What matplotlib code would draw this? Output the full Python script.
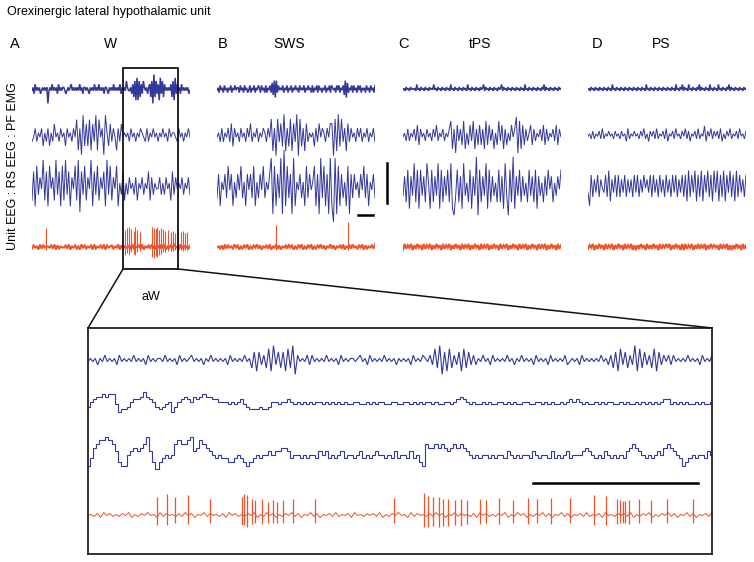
import numpy as np
import matplotlib
matplotlib.use("Agg")
import matplotlib.pyplot as plt
from matplotlib.patches import Rectangle

plt.rcParams['font.family'] = ['Liberation Sans', 'DejaVu Sans']

W, H = 754, 562
BLUE = '#34379a'
RED = '#f0522a'

# ---- data: hand-read traces, one digit per sample (4.5 = baseline) ----
# panel A (W)
a_emg = ("4536454534" "5454504546" "4545364545" "5434545645" "4545464535"
         "5454354546" "4546454535" "5435454645" "4546354547" "5445362718"
         "1726375453" "5627092736" "1837264545" "4627183645" "3645454534")
a_pf = ("3463546253" "6253745364" "52645364" "8160927281" "739184609"
        "527364" "163745" "4536453546" "5436354645" "3546453645" "54364535464")
a_rs = ("2718364927" "1846293718" "2937164829" "0738264917" "3826471938"
        "264815372" "5364536254" "6354726354" "4635364527" "36454635463")
a_unit = ("3645273645" "5463726354" "4637254635" "2746354627" "3546372645"
          "6354726354" "4627354637" "2546374526" "3746254637" "5427364536")
a_spk_t = [0.886, 5.905, 6.032, 6.139, 6.285, 6.456, 6.538, 6.665, 6.816,
           7.595, 7.722, 7.829, 7.930, 8.038, 8.146, 8.291, 8.437, 8.608,
           8.778, 8.924, 9.070, 9.241, 9.411, 9.557, 9.703, 9.829]
a_spk_up = [19, 17, 19, 20, 18, 16, 20, 17, 15,
            20, 19, 18, 20, 17, 19, 18, 16, 17, 15, 16, 14, 15, 15, 16, 14, 15]
a_spk_dn = [3, 8, 6, 8, 5, 7, 8, 5, 4,
            10, 11, 9, 10, 8, 7, 5, 5, 4, 4, 4, 3, 4, 3, 4, 3, 3]

# panel B (SWS)
b_emg = ("4536453645" "3546354645" "5364536453" "4635463546" "5364536354"
         "6372818364" "5463546354" "6354645364" "5463546453" "6354636453"
         "5463546365" "4536463546" "2817354636" "4536463545" "3645364536")
b_pf = ("4536354637" "2645364536" "4735463546" "5364" "8160837291"
        "6281739082" "617354" "5263746536" "47" "7081928361" "736"
        "4536463546" "35463")
b_rs = ("3625463746" "2536473526" "4637253647" "3546" "8172638192" "7361825"
        "4635273645" "726183726182" "0" "81726352716" "3645364736" "25463")
b_unit = ("4536273645" "3746253647" "2536473625" "4637254736" "2546374625"
          "3647253647" "2536473625" "4736254637" "2546374536" "4726354637")
b_spk_t = [3.734, 8.291]
b_spk_up = [22, 25]
b_spk_dn = [3, 3]

# panel C (tPS)
c_emg = ("4536453645" "4538453645" "3645364548" "4536453645" "3645384536"
         "4536453645" "3845364536" "4536458364" "5364536453" "6458364536"
         "4536453645" "3645384536" "4536453645" "3648364536" "4536453645")
c_pf = ("4536354637" "2645364536" "4735463546" "8160736281" "5273816272"
        "6182736152" "8371625374" "6908172635" "7263546372" "6354637264")
c_rs = ("3627163827" "1736285172" "6381726372" "8103726183" "5271639072"
        "6381726352" "7261830729" "1637263527" "3627163526" "3746253647")
c_unit = ("2736472637" "4627364726" "3746273647" "2637462736" "4726374627"
          "3647263746" "2736472637" "4627364726" "3746273647" "2637462736")

# panel D (PS)
d_emg = ("4536453645" "3645364536" "4538453645" "3645364536" "4536453645"
         "3645384536" "4536453645" "3645364536" "4538453648" "3645384536"
         "4536483645" "3645384536" "4538453645" "3648364536" "4536453645")
d_pf = ("4536354637" "3546453645" "3645273546" "4536473526" "4637354637"
        "2546374536" "4736254637" "3548264736" "4637253647" "3546374536")
d_rs = ("3072637264" "3728163727" "2637263627" "3726374637" "2736273627"
        "3627372637" "2718273817" "2817382718" "3817281738" "2718273627")
d_unit = ("3647263746" "2736472637" "4627364726" "2637462736" "3746273647"
          "4726374627" "2736472637" "3647263746" "4627364726" "2637462736")

# inset (aW)
i_emg = ("4545354645" "4536454546" "4545364545" "5464545364" "5456454535"
         "4645454536" "4545464527" "1736281937" "2718290645" "4636454546"
         "4545364545" "5456453645" "4546454535" "4545364546" "5463829071"
         "8263718273" "6354645364" "5454645354" "6454536454" "5364545463"
         "4545364545" "4546453627" "1837263918" "2736281736" "4636454546"
         "4545364546")
i_eeg1 = ("3567787884" "1223566797" "6532345135" "6765767877" "6655545456"
          "4322232235" "5455654545" "4545545454" "5454455445" "4545544554"
          "4554545455" "4544554567" "6545445454" "4554545445" "5445545454"
          "4545656545" "4454545544" "5454454545" "4545664545" "4544545445")
i_eeg2 = ("1367889875" "2114565679" "5202343478" "7789568765" "4343322343"
          "2123434454" "5566534434" "3443545343" "4534434534" "3454434353"
          "4435342176" "6767656767" "6543434434" "3443543434" "4354344353"
          "4345344456" "5434354343" "4356765434" "3454676543" "1234344354")
i_unit = ("4536274635" "3647253647" "4527364536" "3746254736" "4536274635"
          "3647253746" "2536473625" "4736254637" "3546274536" "4637253647"
          "4527364536" "3746254736" "4536274635" "3647253746" "2536473625"
          "4736254637" "3546274536" "4637253647" "2536473625" "4736254637")
i_spk_t = [0.553, 0.633, 0.697, 0.801, 0.978, 1.234, 1.254, 1.274, 1.314,
           1.338, 1.394, 1.442, 1.482, 1.514, 1.563, 1.643, 1.819, 2.452,
           2.692, 2.724, 2.764, 2.812, 2.845, 2.885, 2.941, 2.989, 3.037,
           3.141, 3.189, 3.293, 3.405, 3.526, 3.598, 3.710, 3.862, 4.054,
           4.151, 4.239, 4.263, 4.287, 4.303, 4.335, 4.415, 4.511, 4.639,
           4.848]
i_spk_up = [18, 21, 18, 20, 16, 18, 21, 20, 16, 15, 16, 13, 15, 13, 15, 16,
            16, 17, 22, 19, 18, 18, 16, 16, 15, 16, 15, 16, 15, 17, 15, 17,
            16, 17, 17, 20, 19, 16, 15, 14, 14, 15, 16, 15, 16, 16]
i_spk_dn = [10, 10, 8, 9, 8, 10, 10, 12, 9, 8, 9, 8, 8, 8, 8, 8,
            8, 8, 12, 12, 11, 12, 11, 11, 10, 11, 9, 9, 8, 9, 8, 9,
            8, 9, 8, 10, 10, 9, 8, 8, 8, 9, 8, 8, 8, 8]

states = ['W', 'SWS', 'tPS', 'PS']
letters = ['A', 'B', 'C', 'D']


def px_rect(x0, y0, x1, y1):
    return [x0 / W, 1 - y1 / H, (x1 - x0) / W, (y1 - y0) / H]


def levels(s, scale):
    return (np.array([int(c) for c in s]) - 4.5) * scale


def trace(ax, s, scale, row, t_end, color=BLUE, lw=0.7, ds='default'):
    v = levels(s, scale)
    t = np.linspace(0, t_end, len(v))
    ax.plot(t, row - v, color=color, lw=lw, drawstyle=ds,
            solid_joinstyle='miter')


fig = plt.figure(figsize=(W / 100, H / 100), dpi=100)

# top panels
panel_x = [(32, 190), (217, 375), (403, 561), (588, 746)]
panels = [
    (a_emg, 3.2, a_pf, 4.4, a_rs, 5.8, a_unit, 1.0, (a_spk_t, a_spk_up, a_spk_dn)),
    (b_emg, 2.4, b_pf, 4.6, b_rs, 8.0, b_unit, 1.0, (b_spk_t, b_spk_up, b_spk_dn)),
    (c_emg, 1.3, c_pf, 4.0, c_rs, 6.5, c_unit, 1.2, None),
    (d_emg, 1.3, d_pf, 2.6, d_rs, 4.4, d_unit, 1.2, None),
]
rows = [34, 80, 131, 192]
for (x0, x1), (emg, se, pf, sp, rs, sr, unit, su, spk) in zip(panel_x, panels):
    ax = fig.add_axes(px_rect(x0, 55, x1, 275))
    ax.set_xlim(0, 10)
    ax.set_ylim(220, 0)
    ax.axis('off')
    trace(ax, emg, se, rows[0], 10, lw=1.1)
    trace(ax, pf, sp, rows[1], 10)
    trace(ax, rs, sr, rows[2], 10)
    trace(ax, unit, su, rows[3], 10, color=RED, lw=1.5)
    if spk is not None:
        st, up, dn = spk
        ax.vlines(st, rows[3] - np.array(up), rows[3] + np.array(dn),
                  color=RED, lw=0.8)

# inset
ins = fig.add_axes(px_rect(88, 328, 712, 554))
ins.set_xlim(0, 5)
ins.set_ylim(226, 0)
ins.set_xticks([])
ins.set_yticks([])
for sp in ins.spines.values():
    sp.set_linewidth(1.3)
    sp.set_color('#222222')
trace(ins, i_emg, 3.2, 32, 5, lw=0.8)
trace(ins, i_eeg1, 2.5, 75, 5, lw=0.8, ds='steps-mid')
trace(ins, i_eeg2, 3.6, 125, 5, lw=0.8, ds='steps-mid')
trace(ins, i_unit, 1.0, 187, 5, color=RED, lw=0.7)
ins.vlines(i_spk_t, 187 - np.array(i_spk_up), 187 + np.array(i_spk_dn),
           color=RED, lw=0.9)

# decorations in pixel space
deco = fig.add_axes([0, 0, 1, 1])
deco.set_xlim(0, W)
deco.set_ylim(H, 0)
deco.axis('off')
deco.patch.set_alpha(0)
deco.add_patch(Rectangle((123, 68), 55, 201, fill=False, ec='#111111', lw=1.3))
deco.plot([123, 88], [269, 328], color='#111111', lw=1.1)
deco.plot([178, 712], [269, 328], color='#111111', lw=1.1)
deco.plot([387, 387], [163, 203], color='black', lw=1.8)
deco.plot([358, 373], [215, 215], color='black', lw=1.8)
deco.plot([533, 698], [483, 483], color='black', lw=1.8)

deco.text(7, 12, 'Orexinergic lateral hypothalamic unit', fontsize=9,
          ha='left', va='center')
letter_x = [10, 218, 398, 592]
state_x = [110, 289, 480, 661]
for lx, lt, sx, st in zip(letter_x, letters, state_x, states):
    deco.text(lx, 44, lt, fontsize=10.5, ha='left', va='center')
    deco.text(sx, 44, st, fontsize=10, ha='center', va='center')
deco.text(13, 166, 'Unit EEG : RS EEG : PF EMG', fontsize=9, rotation=90,
          ha='center', va='center')
deco.text(151, 297, 'aW', fontsize=9, ha='center', va='center')

fig.savefig('out.png', dpi=100)
